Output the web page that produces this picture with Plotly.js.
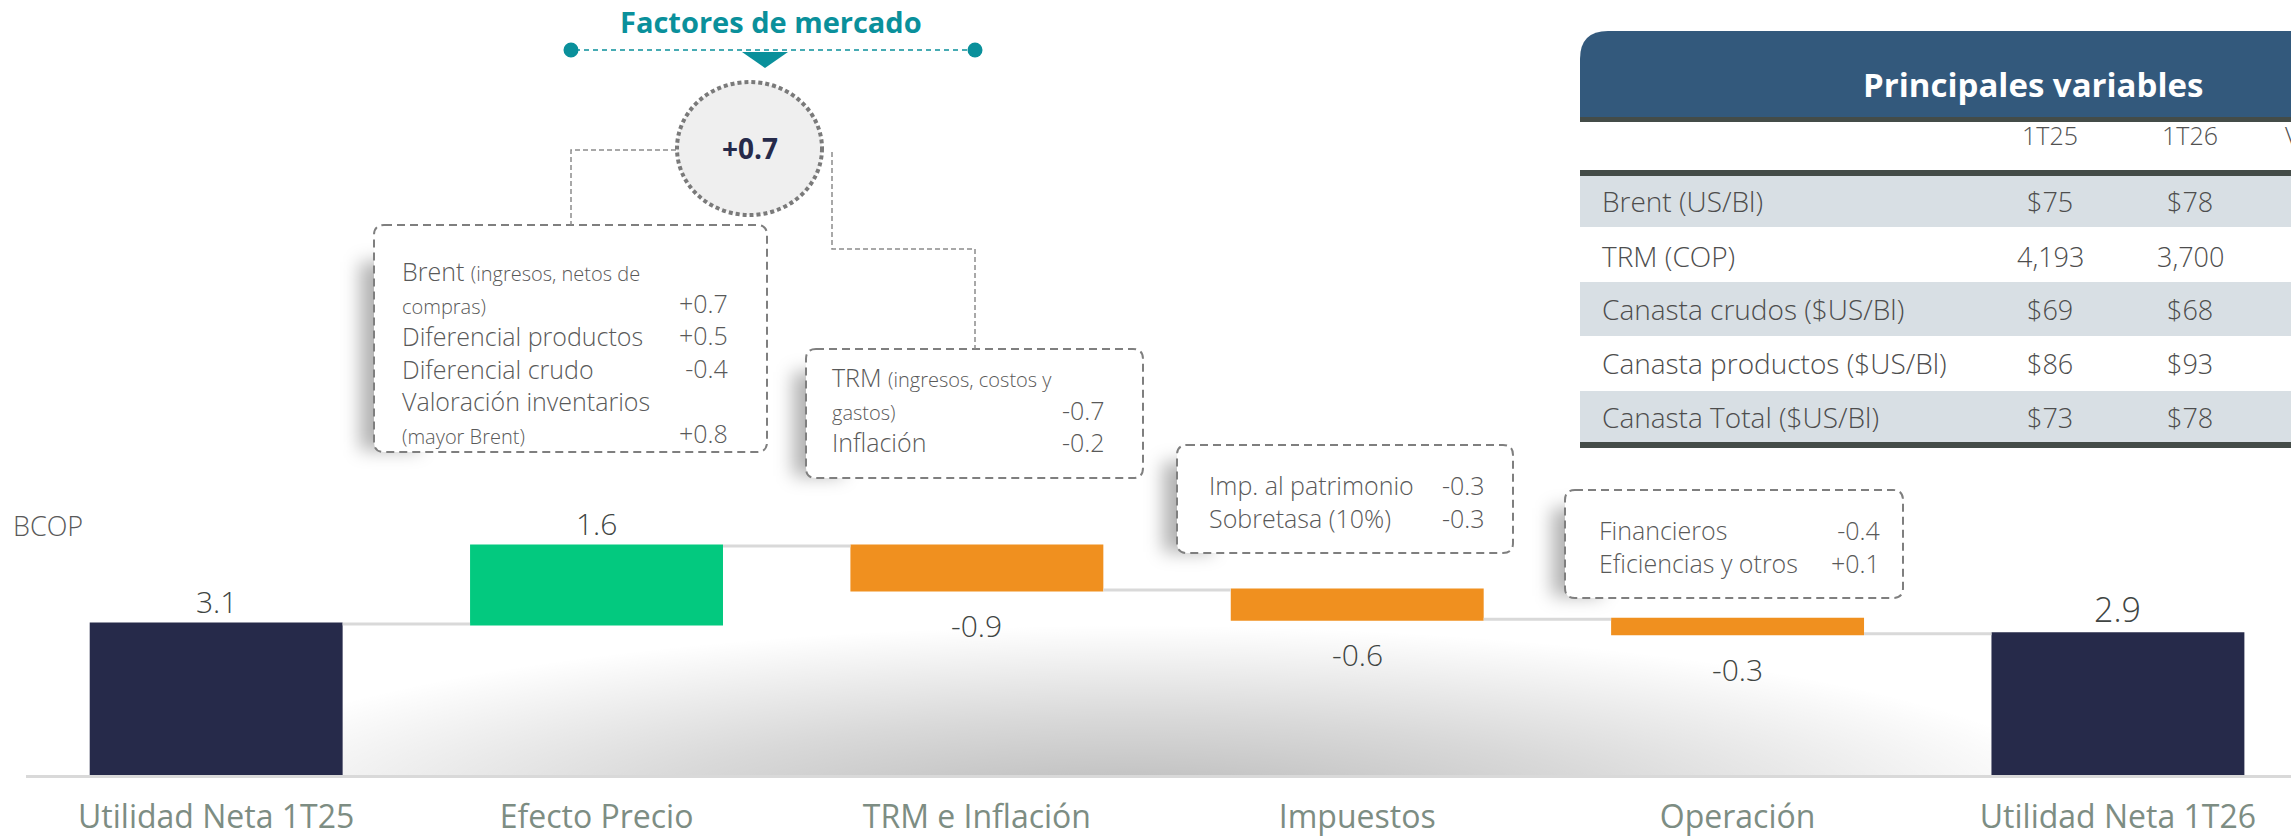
<!DOCTYPE html>
<html><head><meta charset="utf-8">
<script src="https://cdn.plot.ly/plotly-3.0.1.min.js"></script>
<style>html,body{margin:0;padding:0;background:#fff;}#chart{width:2291px;height:837px;}</style>
</head><body><div id="chart"></div>
<script>
// ---------- data ----------
const categories = ['Utilidad Neta 1T25','Efecto Precio','TRM e Inflación','Impuestos','Operación','Utilidad Neta 1T26'];
const values = [3.1, 1.6, -0.9, -0.6, -0.3, 2.9];
const measures = ['absolute','relative','relative','relative','relative','total'];
const unitLabel = 'BCOP';
const groupTitle = 'Factores de mercado';
const groupTotal = '+0.7';
const priceItems = ['Brent <span style="font-size:20px">(ingresos, netos de</span>','<span style="font-size:20px">compras)</span>','Diferencial productos','Diferencial crudo','Valoración inventarios','<span style="font-size:20px">(mayor Brent)</span>'];
const priceValues = ['','+0.7','+0.5','-0.4','','+0.8'];
const trmItems = ['TRM <span style="font-size:20px">(ingresos, costos y</span>','<span style="font-size:20px">gastos)</span>','Inflación'];
const trmValues = ['','-0.7','-0.2'];
const taxItems = ['Imp. al patrimonio','Sobretasa (10%)'];
const taxValues = ['-0.3','-0.3'];
const opItems = ['Financieros','Eficiencias y otros'];
const opValues = ['-0.4','+0.1'];
const tableTitle = 'Principales variables';
const tableHeaders = ['1T25','1T26','Var.'];
const tableRows = ['Brent (US/Bl)','TRM (COP)','Canasta crudos ($US/Bl)','Canasta productos ($US/Bl)','Canasta Total ($US/Bl)'];
const table1T25 = ['$75','4,193','$69','$86','$73'];
const table1T26 = ['$78','3,700','$68','$93','$78'];

// ---------- geometry helpers ----------
const W = 2291, H = 837, ML = 26, MB = 62;
const PW = W - ML, PH = H - MB;
const X = px => (px - ML) / PW;
const Y = py => (H - MB - py) / PH;
const FONT = 'Open Sans, sans-serif';
const TEAL = '#0a909b';
const NAVY = '#262a4a';

function rrect(x0, y0, x1, y1, r, rTL) {
  const p = (x, y) => X(x) + ',' + Y(y);
  const tl = rTL === undefined ? r : rTL;
  return `M${p(x0 + tl, y0)} L${p(x1 - r, y0)} Q${p(x1, y0)} ${p(x1, y0 + r)} L${p(x1, y1 - r)} Q${p(x1, y1)} ${p(x1 - r, y1)} L${p(x0 + r, y1)} Q${p(x0, y1)} ${p(x0, y1 - r)} L${p(x0, y0 + tl)} Q${p(x0, y0)} ${p(x0 + tl, y0)} Z`;
}
function poly(pts, close) {
  return pts.map((q, i) => (i ? 'L' : 'M') + X(q[0]) + ',' + Y(q[1])).join(' ') + (close ? ' Z' : '');
}
const annotations = [];
// firstBase/lastBase: baselines of first and last line (pixels)
function txt(text, x, firstBase, size, color, anchor, weight, lastBase) {
  const lb = lastBase === undefined ? firstBase : lastBase;
  annotations.push({
    text: text, xref: 'paper', yref: 'paper', x: X(x), y: Y((firstBase + lb) / 2 - 0.388 * size),
    xanchor: anchor || 'left', yanchor: 'middle', showarrow: false, align: anchor === 'right' ? 'right' : 'left',
    font: {family: FONT, size: size, color: color, weight: weight || 400}
  });
}

// ---------- shadows (decoration image) ----------
const svg = `<svg xmlns="http://www.w3.org/2000/svg" width="${W}" height="${H}" viewBox="0 0 ${W} ${H}">
<defs>
<radialGradient id="g" cx="0.5" cy="0.5" r="0.5">
<stop offset="0" stop-color="#000" stop-opacity="0.28"/>
<stop offset="0.5" stop-color="#000" stop-opacity="0.15"/>
<stop offset="1" stop-color="#000" stop-opacity="0"/>
</radialGradient>
<filter id="b" x="-1" y="-1" width="3" height="3"><feGaussianBlur stdDeviation="9"/></filter>
<clipPath id="c"><rect x="0" y="0" width="${W}" height="775"/></clipPath>
</defs>
<g clip-path="url(#c)"><ellipse cx="1130" cy="810" rx="970" ry="185" fill="url(#g)"/></g>
<g filter="url(#b)" fill="#000" fill-opacity="0.3">
<rect x="360" y="262" width="60" height="188"/>
<rect x="793" y="372" width="50" height="104"/>
<rect x="1163" y="462" width="50" height="90"/>
<rect x="1552" y="508" width="50" height="88"/>
</g></svg>`;

// ---------- shapes ----------
const shapes = [];
const dashedBox = (x0, y0, x1, y1) => shapes.push({type: 'path', xref: 'paper', yref: 'paper', path: rrect(x0, y0, x1, y1, 10),
  fillcolor: '#ffffff', line: {color: '#7f7f7f', width: 2, dash: '8px,5px'}});
dashedBox(374, 225, 767, 452);
dashedBox(806, 349, 1143, 478);
dashedBox(1177, 445, 1513, 553);
dashedBox(1565, 490, 1903, 598);
shapes.push({type: 'path', xref: 'paper', yref: 'paper', path: poly([[676,150],[571,150],[571,225]]),
  fillcolor: 'rgba(0,0,0,0)', line: {color: '#8c8c8c', width: 1.5, dash: '5px,3px'}});
shapes.push({type: 'path', xref: 'paper', yref: 'paper', path: poly([[832,152],[832,249],[975,249],[975,349]]),
  fillcolor: 'rgba(0,0,0,0)', line: {color: '#8c8c8c', width: 1.5, dash: '5px,3px'}});
shapes.push({type: 'circle', xref: 'paper', yref: 'paper', x0: X(677), x1: X(822), y0: Y(215), y1: Y(82),
  fillcolor: '#efefef', line: {color: '#7a7a7a', width: 4, dash: '4px,3px'}});
shapes.push({type: 'line', xref: 'paper', yref: 'paper', x0: X(575), x1: X(971), y0: Y(50), y1: Y(50),
  line: {color: TEAL, width: 1.5, dash: '5px,4px'}});
[571, 975].forEach(cx => shapes.push({type: 'circle', xref: 'paper', yref: 'paper', x0: X(cx - 7.5), x1: X(cx + 7.5),
  y0: Y(57.5), y1: Y(42.5), fillcolor: TEAL, line: {width: 0}}));
shapes.push({type: 'path', xref: 'paper', yref: 'paper', path: poly([[742,52],[788,52],[765,68]], true),
  fillcolor: TEAL, line: {width: 0}});
const rect = (x0, y0, x1, y1, c) => shapes.push({type: 'rect', xref: 'paper', yref: 'paper', x0: X(x0), x1: X(x1), y0: Y(y1), y1: Y(y0), fillcolor: c, line: {width: 0}, layer: 'below'});
shapes.push({type: 'path', xref: 'paper', yref: 'paper', path: rrect(1580, 31, 2310, 117, 0, 28), fillcolor: '#33597c', line: {width: 0}, layer: 'below'});
rect(1580, 117, 2310, 122, '#444c48');
rect(1580, 170, 2310, 176, '#444c48');
const rowEdges = [176, 227, 282, 336, 391, 442];
tableRows.forEach((r, i) => { if (i % 2 === 0) rect(1580, rowEdges[i], 2310, rowEdges[i + 1], '#d8dfe4'); });
rect(1580, 442, 2310, 448, '#444c48');

// ---------- text ----------
txt(groupTitle, 771, 33, 29, TEAL, 'center', 700);
txt(groupTotal, 750, 159, 28, NAVY, 'center', 700);
const BOXFS = 25, STEP = 1.3 * BOXFS;
const boxText = (items, vals, left, right, base) => {
  const last = base + (items.length - 1) * STEP;
  txt(items.join('<br>'), left, base, BOXFS, '#595959', 'left', 300, last);
  txt(vals.map(v => v || '\u00a0').join('<br>'), right, base, BOXFS, '#595959', 'right', 300, last);
};
boxText(priceItems, priceValues, 400, 730, 280);
boxText(trmItems, trmValues, 830, 1107, 387);
boxText(taxItems, taxValues, 1207, 1487, 495);
boxText(opItems, opValues, 1597, 1882, 540);
txt(unitLabel, 11, 536, 27, '#595959', 'left', 300);
txt(tableTitle, 2033, 97, 33, '#ffffff', 'center', 700);
txt(tableHeaders[0], 2050, 145, 25, '#505050', 'center', 300);
txt(tableHeaders[1], 2190, 145, 25, '#505050', 'center', 300);
txt(tableHeaders[2], 2283, 145, 25, '#505050', 'left', 300);
const rowBase = [212, 267, 320, 374, 428];
tableRows.forEach((r, i) => {
  txt(r, 1600, rowBase[i], 28, '#4d4d4d', 'left', 300);
  txt(table1T25[i], 2050, rowBase[i], 27, '#4d4d4d', 'center', 300);
  txt(table1T26[i], 2190, rowBase[i], 27, '#4d4d4d', 'center', 300);
});

// value labels at the bar ends, positioned through the data scale
let run = 0;
values.forEach((v, i) => {
  let start, end;
  if (measures[i] === 'absolute') { start = 0; end = v; }
  else if (measures[i] === 'total') { start = 0; end = run; }
  else { start = run; end = run + v; }
  run = end;
  const up = end >= start;
  annotations.push({
    x: categories[i], y: end, xref: 'x', yref: 'y', text: v.toFixed(1),
    showarrow: false, yanchor: up ? 'bottom' : 'top', yshift: up ? 0 : -13,
    font: {family: FONT, size: measures[i] === 'total' ? 34 : 30, color: '#404543', weight: 300}
  });
});

const trace = {
  type: 'waterfall', x: categories, y: values, measure: measures,
  increasing: {marker: {color: '#03c97f'}},
  decreasing: {marker: {color: '#f0901f'}},
  totals: {marker: {color: NAVY}},
  connector: {mode: 'between', line: {color: '#d9d9d9', width: 3}},
  textposition: 'none', hoverinfo: 'skip'
};

const layout = {
  width: W, height: H,
  margin: {l: ML, r: 0, t: 0, b: MB, pad: 0},
  paper_bgcolor: '#ffffff', plot_bgcolor: 'rgba(0,0,0,0)',
  showlegend: false, waterfallgap: 0.335,
  xaxis: {type: 'category', range: [-0.5, -0.5 + PW / 380.35], showgrid: false, zeroline: false,
    showline: true, linecolor: '#d9d9d9', linewidth: 3, ticks: '', ticklabelstandoff: 12,
    tickfont: {family: FONT, size: 32, color: '#7d8d83'}, fixedrange: true},
  yaxis: {range: [0, PH / 48.7], visible: false, showgrid: false, zeroline: false, fixedrange: true},
  shapes: shapes, annotations: annotations,
  images: [{source: 'data:image/svg+xml;charset=utf-8,' + encodeURIComponent(svg), xref: 'paper', yref: 'paper',
    x: X(0), y: Y(0), sizex: W / PW, sizey: H / PH, xanchor: 'left', yanchor: 'top', sizing: 'stretch', layer: 'below'}]
};

Plotly.newPlot('chart', [trace], layout, {displayModeBar: false, staticPlot: true});
</script></body></html>
